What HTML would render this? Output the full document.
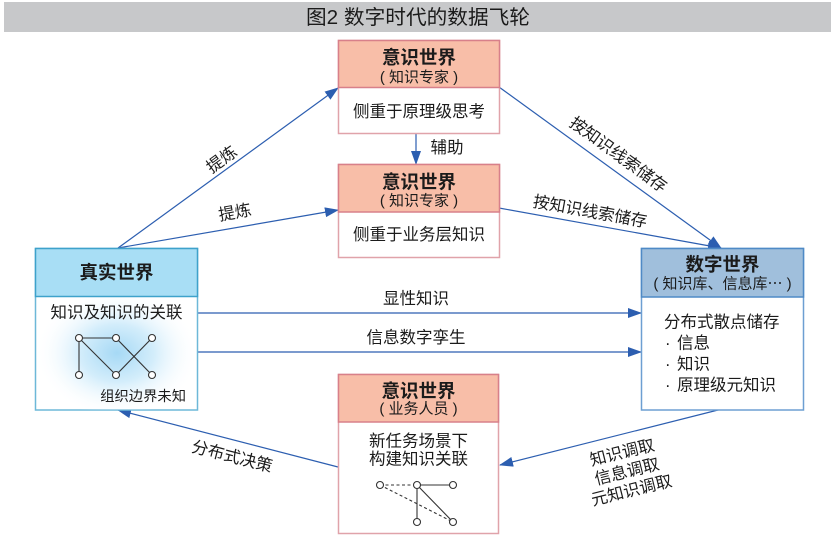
<!DOCTYPE html>
<html>
<head>
<meta charset="utf-8">
<style>
  html,body{margin:0;padding:0;background:#fff;}
  body{width:836px;height:542px;overflow:hidden;}
  svg{display:block;}
  text{font-family:"Liberation Sans","Noto Sans CJK SC",sans-serif;fill:#1b1b1b;}
  .t{font-size:18.5px;font-weight:bold;}
  .s{font-size:15px;}
  .b{font-size:16.5px;}
  .l{font-size:16.5px;}
</style>
</head>
<body>
<svg width="836" height="542" viewBox="0 0 836 542" xmlns="http://www.w3.org/2000/svg">
  <defs>
    <marker id="ah" markerWidth="14" markerHeight="10" refX="13" refY="5" orient="auto" markerUnits="userSpaceOnUse">
      <path d="M0,0 L14,5 L0,10 z" fill="#2c5eb0"/>
    </marker>
    <radialGradient id="glow" cx="50%" cy="50%" r="50%">
      <stop offset="0" stop-color="#a6d9f5"/>
      <stop offset="0.45" stop-color="#d3edfb"/>
      <stop offset="1" stop-color="#ffffff" stop-opacity="0"/>
    </radialGradient>
    <clipPath id="lclip"><rect x="36" y="297" width="161" height="113"/></clipPath>
  </defs>

  <!-- Title bar -->
  <rect x="4" y="2" width="827" height="30" fill="#c7c8ca"/>
  <text x="418" y="18" text-anchor="middle" dominant-baseline="central" style="font-size:20px" textLength="224" lengthAdjust="spacingAndGlyphs">图2 数字时代的数据飞轮</text>

  <!-- Connectors -->
  <g stroke="#2c5eb0" stroke-width="1.2" fill="none">
    <line x1="118" y1="248" x2="338" y2="88" marker-end="url(#ah)"/>
    <line x1="118" y1="248" x2="338" y2="210" marker-end="url(#ah)"/>
    <line x1="416" y1="134" x2="416" y2="164" marker-end="url(#ah)"/>
    <line x1="499" y1="87" x2="721" y2="248" marker-end="url(#ah)"/>
    <line x1="499" y1="208" x2="721" y2="248" marker-end="url(#ah)"/>
    <line x1="197" y1="313" x2="641" y2="313" marker-end="url(#ah)"/>
    <line x1="197" y1="352" x2="641" y2="352" marker-end="url(#ah)"/>
    <line x1="338" y1="467" x2="118" y2="410" marker-end="url(#ah)"/>
    <line x1="722" y1="409" x2="500" y2="465" marker-end="url(#ah)"/>
  </g>

  <!-- Connector labels -->
  <text class="l" x="222" y="160" text-anchor="middle" dominant-baseline="central" transform="rotate(-36 222 160)">提炼</text>
  <text class="l" x="235" y="213" text-anchor="middle" dominant-baseline="central" transform="rotate(-10 235 213)">提炼</text>
  <text class="l" x="447" y="148" text-anchor="middle" dominant-baseline="central">辅助</text>
  <text class="l" x="618" y="155" text-anchor="middle" dominant-baseline="central" transform="rotate(36 618 155)">按知识线索储存</text>
  <text class="l" x="590" y="212" text-anchor="middle" dominant-baseline="central" transform="rotate(10.3 590 212)">按知识线索储存</text>
  <text class="l" x="416" y="299" text-anchor="middle" dominant-baseline="central">显性知识</text>
  <text class="l" x="416" y="338" text-anchor="middle" dominant-baseline="central">信息数字孪生</text>
  <text class="l" x="232" y="457" text-anchor="middle" dominant-baseline="central" transform="rotate(14.5 232 457)">分布式决策</text>
  <g transform="rotate(-14 627 472)">
    <text class="l" x="627" y="452.5" text-anchor="middle" dominant-baseline="central">知识调取</text>
    <text class="l" x="627" y="472" text-anchor="middle" dominant-baseline="central">信息调取</text>
    <text class="l" x="627" y="491.5" text-anchor="middle" dominant-baseline="central">元知识调取</text>
  </g>

  <!-- Top box: 意识世界 (知识专家) -->
  <rect x="338.5" y="40.5" width="161" height="93" fill="#fff" stroke="#e0a3aa" stroke-width="1.5"/>
  <rect x="338.5" y="40.5" width="161" height="47" fill="#f8bea8" stroke="#d8808a" stroke-width="1.5"/>
  <text class="t" x="419" y="57.5" text-anchor="middle" dominant-baseline="central">意识世界</text>
  <text class="s" x="419" y="77.5" text-anchor="middle" dominant-baseline="central">( 知识专家 )</text>
  <text class="b" x="419" y="112" text-anchor="middle" dominant-baseline="central">侧重于原理级思考</text>

  <!-- Middle box -->
  <rect x="338.5" y="164.5" width="161" height="93" fill="#fff" stroke="#e0a3aa" stroke-width="1.5"/>
  <rect x="338.5" y="164.5" width="161" height="47.5" fill="#f8bea8" stroke="#d8808a" stroke-width="1.5"/>
  <text class="t" x="419" y="182" text-anchor="middle" dominant-baseline="central">意识世界</text>
  <text class="s" x="419" y="201" text-anchor="middle" dominant-baseline="central">( 知识专家 )</text>
  <text class="b" x="419" y="235" text-anchor="middle" dominant-baseline="central">侧重于业务层知识</text>

  <!-- Bottom box -->
  <rect x="338.5" y="374.5" width="160" height="159" fill="#fff" stroke="#e0a3aa" stroke-width="1.5"/>
  <rect x="338.5" y="374.5" width="160" height="47.5" fill="#f8bea8" stroke="#d8808a" stroke-width="1.5"/>
  <text class="t" x="418.5" y="391" text-anchor="middle" dominant-baseline="central">意识世界</text>
  <text class="s" x="418.5" y="409" text-anchor="middle" dominant-baseline="central">( 业务人员 )</text>
  <text class="b" x="418.5" y="441.5" text-anchor="middle" dominant-baseline="central">新任务场景下</text>
  <text class="b" x="418.5" y="459.5" text-anchor="middle" dominant-baseline="central">构建知识关联</text>
  <g stroke="#333" stroke-width="1.1" fill="none">
    <line x1="380" y1="485" x2="417" y2="485" stroke-dasharray="3,2.5"/>
    <line x1="380" y1="485" x2="453" y2="522" stroke-dasharray="3,2.5"/>
    <line x1="417" y1="485" x2="453" y2="485"/>
    <line x1="417" y1="485" x2="417" y2="522"/>
    <line x1="417" y1="485" x2="453" y2="522"/>
  </g>
  <g stroke="#333" stroke-width="1.1" fill="#fff">
    <circle cx="380" cy="485" r="3.5"/>
    <circle cx="417" cy="485" r="3.5"/>
    <circle cx="453" cy="485" r="3.5"/>
    <circle cx="417" cy="522" r="3.5"/>
    <circle cx="453" cy="522" r="3.5"/>
  </g>

  <!-- Left box: 真实世界 -->
  <rect x="35.5" y="248.5" width="162" height="161.5" fill="#fff" stroke="#6db8d8" stroke-width="1.5"/>
  <g clip-path="url(#lclip)">
    <ellipse cx="117" cy="353" rx="82" ry="64" fill="url(#glow)"/>
  </g>
  <rect x="35.5" y="248.5" width="162" height="48" fill="#a8def5" stroke="#3ea2cb" stroke-width="1.5"/>
  <text class="t" x="116.5" y="272.5" text-anchor="middle" dominant-baseline="central">真实世界</text>
  <text class="b" x="116.5" y="313" text-anchor="middle" dominant-baseline="central">知识及知识的关联</text>
  <g stroke="#333" stroke-width="1.1" fill="none">
    <line x1="79" y1="338" x2="116" y2="338"/>
    <line x1="79" y1="338" x2="79" y2="375"/>
    <line x1="79" y1="338" x2="116" y2="375"/>
    <line x1="116" y1="375" x2="152" y2="338"/>
    <line x1="116" y1="338" x2="152" y2="375"/>
  </g>
  <g stroke="#333" stroke-width="1.1" fill="#fff">
    <circle cx="79" cy="338" r="3.5"/>
    <circle cx="116" cy="338" r="3.5"/>
    <circle cx="152" cy="338" r="3.5"/>
    <circle cx="79" cy="375" r="3.5"/>
    <circle cx="116" cy="375" r="3.5"/>
    <circle cx="152" cy="375" r="3.5"/>
  </g>
  <text x="186" y="397" text-anchor="end" dominant-baseline="central" style="font-size:14.3px">组织边界未知</text>

  <!-- Right box: 数字世界 -->
  <rect x="641.5" y="248.5" width="162" height="161.5" fill="#fff" stroke="#6d9fd2" stroke-width="1.5"/>
  <rect x="641.5" y="248.5" width="162" height="48.5" fill="#a0bfdc" stroke="#4f8ac6" stroke-width="1.5"/>
  <text class="t" x="722.5" y="264.5" text-anchor="middle" dominant-baseline="central">数字世界</text>
  <text class="s" x="722.5" y="284" text-anchor="middle" dominant-baseline="central">( 知识库、信息库⋯ )</text>
  <text class="b" x="664" y="322.5" dominant-baseline="central">分布式散点储存</text>
  <text class="b" x="665" y="343.5" dominant-baseline="central">·</text>
  <text class="b" x="677" y="343.5" dominant-baseline="central">信息</text>
  <text class="b" x="665" y="364.5" dominant-baseline="central">·</text>
  <text class="b" x="677" y="364.5" dominant-baseline="central">知识</text>
  <text class="b" x="665" y="385.5" dominant-baseline="central">·</text>
  <text class="b" x="677" y="385.5" dominant-baseline="central">原理级元知识</text>
</svg>
</body>
</html>
